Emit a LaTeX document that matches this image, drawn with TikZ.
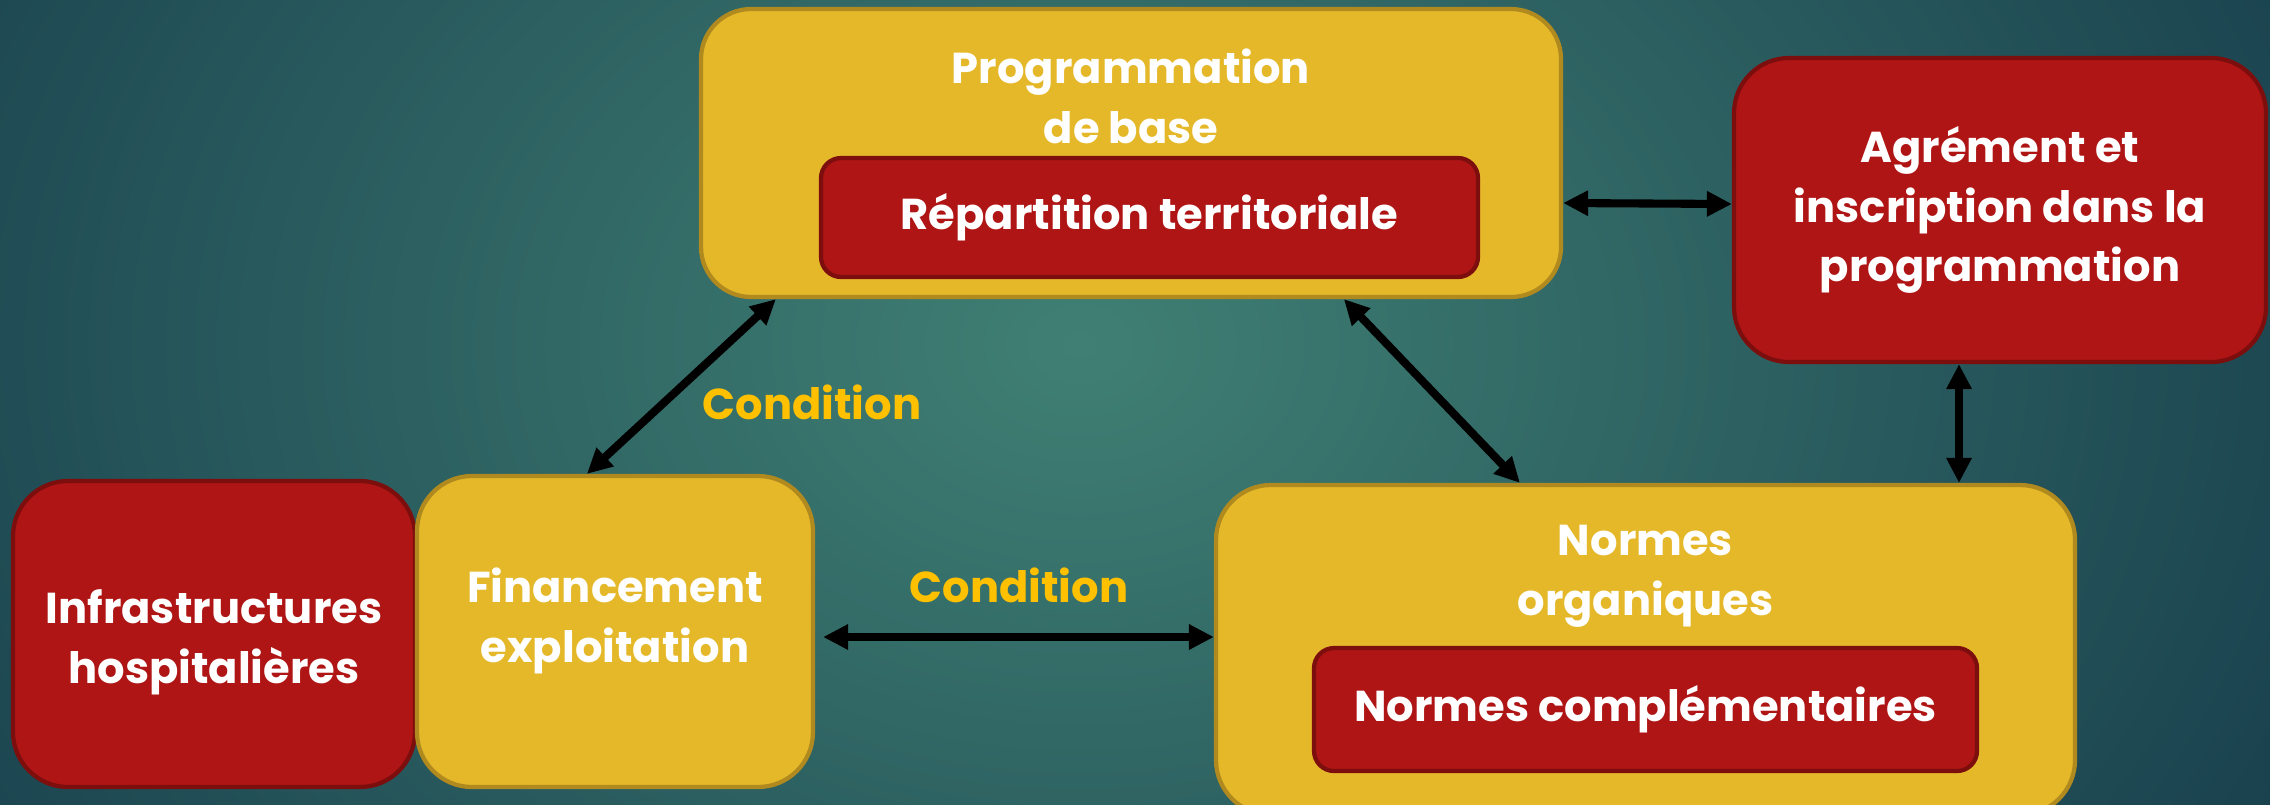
\documentclass[tikz,border=0pt]{standalone}
\usepackage{fontspec}
\setmainfont{Poppins}
\usepackage{tikz}
\usetikzlibrary{arrows.meta,positioning}
\definecolor{bgin}{HTML}{408074}
\definecolor{bgout}{HTML}{163C4B}
\definecolor{yellowfill}{HTML}{E5B82A}
\definecolor{yellowline}{HTML}{B0891F}
\definecolor{redfill}{HTML}{AF1515}
\definecolor{redline}{HTML}{7C0E0E}
\definecolor{condgold}{HTML}{FFC000}
\newcommand{\boxfont}{\fontsize{12.3}{17}\selectfont\bfseries}

\begin{document}
\begin{tikzpicture}[
		yellowbox/.style={draw=yellowline, fill=yellowfill, line width=1.2pt, rounded corners=0.5cm, inner sep=0pt},
		redbox/.style={draw=redline, fill=redfill, line width=1.2pt, rounded corners=0.5cm, inner sep=0pt, align=center, text=white, font=\boxfont},
		boxtext/.style={align=center, text=white, font=\boxfont},
		cond/.style={text=condgold, font=\boxfont},
		link/.style={{Triangle[length=0.25cm,width=0.24cm]}-{Triangle[length=0.25cm,width=0.24cm]}, line width=2.3pt, black}
	]
			\useasboundingbox (0,0) rectangle (22.7,8.04);
			\begin{scope}
				\clip (0,0) rectangle (22.7,8.04);
				\fill[bgout] (0,0) rectangle (22.7,8.04);
				\shade[inner color=bgin, outer color=bgout] (10.8,4.6) ellipse (14.5 and 11);
			\end{scope}

			\node[yellowbox, minimum width=8.6cm, minimum height=2.88cm] (prog) at (11.31,6.51) {};
			\node[boxtext] (progtext) at (11.31,7.08) {Programmation\\de base};
			\node[redbox, rounded corners=0.2cm, minimum width=6.57cm, minimum height=1.19cm] (repart) at (11.495,5.865) {R\'epartition territoriale};

			\node[redbox, rounded corners=0.55cm, minimum width=5.32cm, minimum height=3.04cm] (agrement) at (20.0,5.94) {Agr\'ement et\\inscription dans la\\programmation};

			\node[redbox, rounded corners=0.55cm, minimum width=4.02cm, minimum height=3.06cm] (infra) at (2.14,1.70) {};
			\node[boxtext] (infratext) at (2.14,1.62) {Infrastructures\\hospitali\`eres};
			\node[yellowbox, rounded corners=0.55cm, minimum width=3.96cm, minimum height=3.11cm] (finance) at (6.15,1.725) {};
			\node[boxtext] (financetext) at (6.15,1.83) {Financement\\exploitation};

			\node[yellowbox, rounded corners=0.55cm, minimum width=8.59cm, minimum height=3.3cm] (normes) at (16.455,1.54) {};
			\node[boxtext] (normtext) at (16.455,2.28) {Normes\\organiques};
			\node[redbox, rounded corners=0.2cm, minimum width=6.63cm, minimum height=1.23cm] (compl) at (16.455,0.945) {Normes compl\'ementaires};

			\node[cond] (cond1) at (8.12,4.015) {Condition};
			\node[cond] (cond2) at (10.19,2.19) {Condition};

			\coordinate (eleft) at ([xshift=0.08cm,yshift=-0.055cm]finance.east);
			\coordinate (dtop) at ([xshift=-0.41cm]agrement.south);

			\draw[link] ([xshift=0.77cm]prog.south west) -- ([xshift=1.72cm]finance.north west);
			\draw[link] ([xshift=6.45cm]prog.south west) -- ([xshift=3.06cm]normes.north west);
			\draw[link] ([yshift=-0.5cm]prog.east) -- ([yshift=0.06cm]agrement.west);
			\draw[link] (dtop) -- (dtop |- normes.north);
			\draw[link] (eleft) -- (eleft -| normes.west);
		\end{tikzpicture}
\end{document}
